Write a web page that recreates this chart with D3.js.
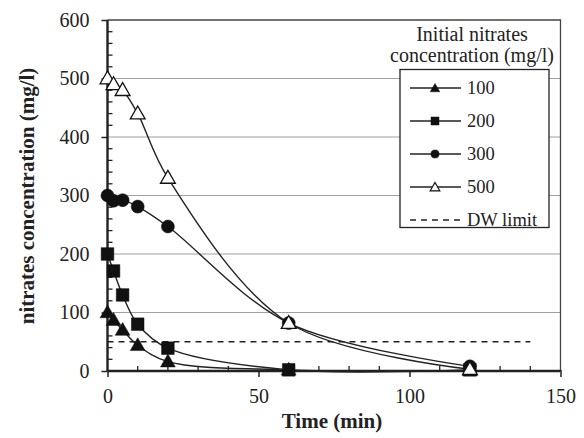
<!DOCTYPE html>
<html>
<head>
<meta charset="utf-8">
<script src="https://cdn.jsdelivr.net/npm/d3@7"></script>
</head>
<body style="margin:0; background:#fff">
<svg id="chart" width="584" height="438"></svg>
<script>
// data
var times = [0, 2, 5, 10, 20, 60, 120];
var c100 = [100, 87, 70, 44, 16, 2, 1];
var c200 = [200, 171, 130, 80, 39, 2, 2];
var c300 = [300, 291, 292, 281, 247, 82, 8];
var c500 = [500, 490, 480, 440, 330, 82, 3];
var seriesNames = ["100", "200", "300", "500"];
var dwLimit = 50, dwRange = [0, 140];
var xTicks = [0, 50, 100, 150];
var yTicks = [0, 100, 200, 300, 400, 500, 600];

var FONT = "Liberation Serif";
var INK = "#222";

var series = [
  {name: "100", values: c100, shape: d3.symbolTriangle, fill: "#111", size: 95, lsize: 40},
  {name: "200", values: c200, shape: d3.symbolSquare, fill: "#111", size: 160, lsize: 64},
  {name: "300", values: c300, shape: d3.symbolCircle, fill: "#111", size: 133, lsize: 52},
  {name: "500", values: c500, shape: d3.symbolTriangle, fill: "#fff", size: 95, lsize: 40}
];

var margin = {left: 107.5, right: 23.5, top: 20, bottom: 67};
var W = 584, H = 438;
var svg = d3.select("#chart");

var x = d3.scaleLinear().domain([0, 150]).range([margin.left, W - margin.right]);
var y = d3.scaleLinear().domain([0, 600]).range([H - margin.bottom, margin.top]);

// gridlines
svg.append("g").selectAll("line")
  .data(yTicks.filter(function(d){ return d > 0 && d < 600; }))
  .enter().append("line")
  .attr("x1", x(0)).attr("x2", x(150))
  .attr("y1", function(d){ return y(d); }).attr("y2", function(d){ return y(d); })
  .attr("stroke", "#a0a0a0").attr("stroke-width", 1.2);

// frame top / right
svg.append("path")
  .attr("d", "M" + x(0) + "," + y(600) + "H" + x(150) + "V" + y(0))
  .attr("fill", "none").attr("stroke", "#444").attr("stroke-width", 1.3);

// minor ticks (inside)
var g = svg.append("g");
g.selectAll(".xm").data(d3.range(10, 150, 10).filter(function(d){ return d % 50; }))
  .enter().append("line")
  .attr("x1", function(d){ return x(d); }).attr("x2", function(d){ return x(d); })
  .attr("y1", y(0)).attr("y2", y(0) - 5)
  .attr("stroke", INK).attr("stroke-width", 1.3);
g.selectAll(".ym").data(d3.range(20, 600, 20).filter(function(d){ return d % 100; }))
  .enter().append("line")
  .attr("y1", function(d){ return y(d); }).attr("y2", function(d){ return y(d); })
  .attr("x1", x(0)).attr("x2", x(0) + 5)
  .attr("stroke", INK).attr("stroke-width", 1.3);

// axes
var xAxis = d3.axisBottom(x).tickValues(xTicks).tickSize(6).tickPadding(12);
var yAxis = d3.axisLeft(y).tickValues(yTicks).tickSize(6).tickPadding(12);
var gx = svg.append("g").attr("transform", "translate(0," + y(0) + ")").call(xAxis);
var gy = svg.append("g").attr("transform", "translate(" + x(0) + ",0)").call(yAxis);
[gx, gy].forEach(function(a){
  a.attr("font-size", 20);
  a.select(".domain").attr("stroke", INK).attr("stroke-width", 2.4);
  a.selectAll(".tick line").attr("stroke", INK).attr("stroke-width", 1.5);
  a.selectAll(".tick text").attr("fill", INK).attr("font-size", 20);
});
gx.select(".domain").attr("d", "M" + x(0) + ",0H" + x(150));
gy.select(".domain").attr("d", "M0," + y(0) + "V" + y(600));
gx.selectAll(".tick line").attr("y1", -1);

// DW limit
svg.append("line")
  .attr("x1", x(dwRange[0])).attr("x2", x(dwRange[1]))
  .attr("y1", y(dwLimit)).attr("y2", y(dwLimit))
  .attr("stroke", INK).attr("stroke-width", 1.7).attr("stroke-dasharray", "6,5");

// lines
var line = d3.line()
  .x(function(d, i){ return x(times[i]); })
  .y(function(d){ return y(d); })
  .curve(d3.curveCatmullRom.alpha(0.5));

series.forEach(function(s){
  svg.append("path").datum(s.values)
    .attr("d", line).attr("fill", "none")
    .attr("stroke", INK).attr("stroke-width", 1.4);
});
series.forEach(function(s){
  var sym = d3.symbol().type(s.shape).size(s.size);
  svg.append("g").selectAll("path").data(s.values).enter().append("path")
    .attr("d", sym)
    .attr("transform", function(d, i){ return "translate(" + x(times[i]) + "," + (y(d) + (s.shape === d3.symbolTriangle ? 1 : 0)) + ")"; })
    .attr("fill", s.fill).attr("stroke", "#111").attr("stroke-width", s.fill === "#fff" ? 1.3 : 0.5);
});

// axis titles
svg.append("text").attr("x", 332).attr("y", 428).attr("text-anchor", "middle")
  .attr("font-size", 21).attr("font-weight", "bold").attr("fill", INK).text("Time (min)");
svg.append("text").attr("transform", "translate(34,196) rotate(-90)").attr("text-anchor", "middle")
  .attr("font-size", 21).attr("font-weight", "bold").attr("fill", INK).text("nitrates concentration (mg/l)");

// legend
var lg = svg.append("g");
lg.append("text").attr("x", 472).attr("y", 41).attr("text-anchor", "middle")
  .attr("font-size", 20).attr("fill", INK).text("Initial nitrates");
lg.append("text").attr("x", 472).attr("y", 62).attr("text-anchor", "middle")
  .attr("font-size", 20).attr("fill", INK).text("concentration (mg/l)");
lg.append("rect").attr("x", 400).attr("y", 69.5).attr("width", 149).attr("height", 158)
  .attr("fill", "#fff").attr("stroke", INK).attr("stroke-width", 1.3);

var rowY = d3.scalePoint().domain(seriesNames.concat(["DW limit"])).range([88, 220]);
series.forEach(function(s){
  var yy = rowY(s.name);
  lg.append("line").attr("x1", 410).attr("x2", 461).attr("y1", yy).attr("y2", yy)
    .attr("stroke", INK).attr("stroke-width", 1.4);
  var sym = d3.symbol().type(s.shape).size(s.lsize);
  lg.append("path").attr("d", sym).attr("transform", "translate(435," + (yy + (s.shape === d3.symbolTriangle ? 1 : 0)) + ")")
    .attr("fill", s.fill).attr("stroke", "#111").attr("stroke-width", s.fill === "#fff" ? 1.2 : 0.5);
  lg.append("text").attr("x", 467).attr("y", yy + 5.5).attr("font-size", 18.5).attr("fill", INK).text(s.name);
});
var dy = rowY("DW limit");
lg.append("line").attr("x1", 410).attr("x2", 460).attr("y1", dy).attr("y2", dy)
  .attr("stroke", INK).attr("stroke-width", 1.7).attr("stroke-dasharray", "6,5");
lg.append("text").attr("x", 467).attr("y", dy + 5.5).attr("font-size", 18.5).attr("fill", INK).text("DW limit");

// set the serif face on every text element directly
svg.selectAll("g").attr("font-family", null);
svg.selectAll("text").attr("font-family", FONT);
</script>
</body>
</html>
